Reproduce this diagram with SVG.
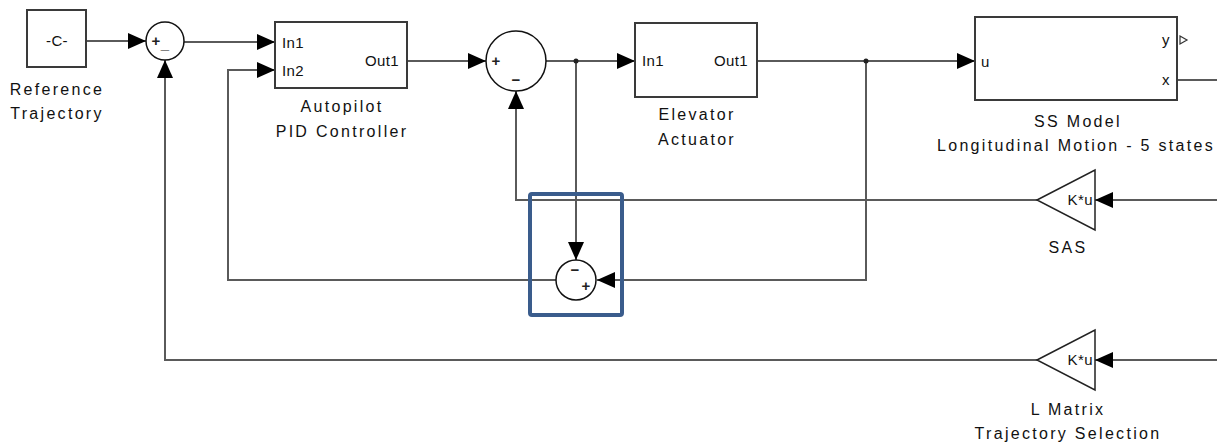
<svg xmlns="http://www.w3.org/2000/svg" width="1217" height="445" viewBox="0 0 1217 445">
<style>
.blk{fill:#fff;stroke:#3a3a3a;stroke-width:2}
.sum{fill:#fff;stroke:#111;stroke-width:1.5}
.w{fill:none;stroke:#5a5a5a;stroke-width:2}
.t{font-family:"Liberation Sans",Arial,sans-serif;font-size:16px;fill:#111;letter-spacing:2.3px}
.p{font-family:"Liberation Sans",Arial,sans-serif;font-size:15px;fill:#111;letter-spacing:0.4px}
.s{font-family:"Liberation Sans",Arial,sans-serif;font-size:15px;font-weight:bold;fill:#222}
</style>
<defs>
<marker id="ah" markerUnits="userSpaceOnUse" markerWidth="20" markerHeight="18" refX="18" refY="8" orient="auto">
<path d="M0,0 L18,8 L0,16 z" fill="#000"/>
</marker>
</defs>
<g id="connectors">
<path class="w" d="M86,41 H146" marker-end="url(#ah)"/>
<path class="w" d="M184,42 H275" marker-end="url(#ah)"/>
<path class="w" d="M407,61 H486" marker-end="url(#ah)"/>
<path class="w" d="M546,61 H635" marker-end="url(#ah)"/>
<path class="w" d="M757,61 H975" marker-end="url(#ah)"/>
<path class="w" d="M576,61 V260" marker-end="url(#ah)"/>
<path class="w" d="M866,61 V280 H597" marker-end="url(#ah)"/>
<path class="w" d="M556,280 H228 V70 H275" marker-end="url(#ah)"/>
<path class="w" d="M1217,200 H1095" marker-end="url(#ah)"/>
<path class="w" d="M1037,200 H516 V91" marker-end="url(#ah)"/>
<path class="w" d="M1217,360 H1095" marker-end="url(#ah)"/>
<path class="w" d="M1037,360 H165 V60" marker-end="url(#ah)"/>
<path class="w" d="M1177,80 H1217"/>
<circle cx="576" cy="61" r="2.5" fill="#222"/>
<circle cx="866" cy="61" r="2.5" fill="#222"/>
</g>
<g id="ref-traj">
<rect class="blk" x="27" y="10" width="59" height="57"/>
<text class="p" x="57" y="46" text-anchor="middle">-C-</text>
<text class="t" x="57" y="95" text-anchor="middle">Reference</text>
<text class="t" x="57" y="119" text-anchor="middle">Trajectory</text>
</g>
<g id="sum1">
<circle class="sum" cx="165" cy="41" r="19"/>
<text class="s" x="156" y="46" text-anchor="middle">+</text>
<text class="s" x="165" y="49" text-anchor="middle">_</text>
</g>
<g id="pid">
<rect class="blk" x="275" y="22" width="132" height="66"/>
<text class="p" x="282" y="48">In1</text>
<text class="p" x="282" y="76">In2</text>
<text class="p" x="399" y="66" text-anchor="end">Out1</text>
<text class="t" x="342" y="112" text-anchor="middle">Autopilot</text>
<text class="t" x="342" y="137" text-anchor="middle">PID Controller</text>
</g>
<g id="sum2">
<circle class="sum" cx="516" cy="61" r="30"/>
<text class="s" x="496" y="66" text-anchor="middle">+</text>
<text class="s" x="516" y="85" text-anchor="middle">−</text>
</g>
<g id="elevator">
<rect class="blk" x="635" y="23" width="122" height="74"/>
<text class="p" x="642" y="66">In1</text>
<text class="p" x="748" y="66" text-anchor="end">Out1</text>
<text class="t" x="697" y="120" text-anchor="middle">Elevator</text>
<text class="t" x="697" y="145" text-anchor="middle">Actuator</text>
</g>
<g id="ss-model">
<rect class="blk" x="975" y="17" width="202" height="83"/>
<text class="p" x="981" y="67">u</text>
<text class="p" x="1170" y="45" text-anchor="end">y</text>
<text class="p" x="1170" y="85" text-anchor="end">x</text>
<path d="M1180,36 L1187,40 L1180,44 z" fill="#fff" stroke="#333" stroke-width="1.2"/>
<text class="t" x="1078" y="127" text-anchor="middle">SS Model</text>
<text class="t" x="1076" y="151" text-anchor="middle">Longitudinal Motion - 5 states</text>
</g>
<g id="sum3">
<circle class="sum" cx="576" cy="280" r="20"/>
<text class="s" x="575" y="275" text-anchor="middle">−</text>
<text class="s" x="586" y="291" text-anchor="middle">+</text>
</g>
<g id="sas">
<path d="M1037,200 L1095,170 L1095,230 z" fill="#fff" stroke="#222" stroke-width="1.5"/>
<text class="p" x="1093" y="205" text-anchor="end">K*u</text>
<text class="t" x="1068" y="253" text-anchor="middle">SAS</text>
</g>
<g id="lmatrix">
<path d="M1037,360 L1095,330 L1095,390 z" fill="#fff" stroke="#222" stroke-width="1.5"/>
<text class="p" x="1093" y="365" text-anchor="end">K*u</text>
<text class="t" x="1068" y="415" text-anchor="middle">L Matrix</text>
<text class="t" x="1068" y="439" text-anchor="middle">Trajectory Selection</text>
</g>
<g id="highlight">
<rect x="530" y="194" width="92" height="121" rx="2" fill="none" stroke="#3a5c8c" stroke-width="4"/>
</g>
</svg>
